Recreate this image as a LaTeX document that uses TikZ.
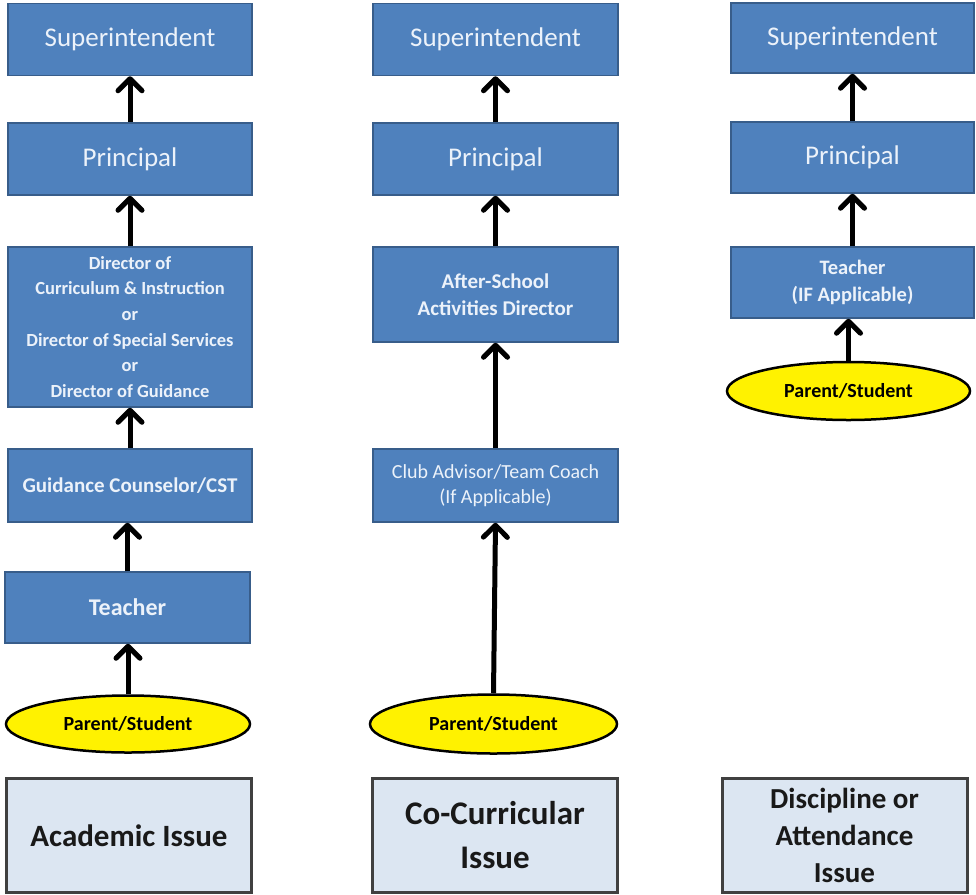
\documentclass[tikz,border=0pt]{standalone}
\usepackage{fontspec}
\setmainfont{Carlito}
\usetikzlibrary{arrows.meta,shapes.geometric}
\definecolor{boxblue}{RGB}{79,129,189}
\definecolor{boxedge}{RGB}{56,93,138}
\definecolor{boxtext}{RGB}{236,242,250}
\definecolor{issuefill}{RGB}{220,230,242}
\definecolor{issueedge}{RGB}{64,64,64}
\tikzset{
  role/.style={draw=boxedge, line width=1.5pt, fill=boxblue, text=boxtext,
    minimum width=244pt, minimum height=72pt, inner sep=0pt, align=center},
  toprole/.style={role, font=\fontsize{27}{32}\selectfont},
  parent/.style={ellipse, draw=black, line width=2.5pt, fill=yellow,
    minimum width=244pt, minimum height=57pt, inner sep=0pt,
    font=\fontsize{20}{24}\selectfont\bfseries},
  issue/.style={draw=issueedge, line width=3pt, fill=issuefill, text=black!90,
    minimum width=245pt, minimum height=114pt, inner sep=0pt, align=center},
  up/.style={-{Straight Barb[length=12pt,width=24pt,round]}, line width=5pt}
}
\begin{document}
\begin{tikzpicture}[x=1pt,y=-1pt]
\useasboundingbox (0,0) rectangle (976,894);
\node[toprole] (sup1) at (130,39.5) {Superintendent};
\node[toprole] (pri1) at (130,159) {Principal};
\node[role, minimum height=160pt, font=\fontsize{18.5}{25.7}\selectfont\bfseries] (dir1) at (130,327) {Director of\\Curriculum \& Instruction\\or\\Director of Special Services\\or\\Director of Guidance};
\node[role, minimum height=73pt, font=\fontsize{21}{25}\selectfont\bfseries] (gui1) at (130,485.5) {Guidance Counselor/CST};
\node[role, minimum width=245pt, minimum height=71pt, font=\fontsize{24}{28}\selectfont\bfseries] (tea1) at (127.5,607.5) {Teacher};
\node[parent] (par1) at (128,724) {Parent/Student};
\node[issue, font=\fontsize{31}{40}\selectfont\bfseries] (iss1) at (129,835.5) {Academic Issue};
\draw[up] (par1.north) -- (par1.north |- tea1.south);
\draw[up] (tea1.north) -- (tea1.north |- gui1.south);
\draw[up] (gui1.north) -- (gui1.north |- dir1.south);
\draw[up] (dir1.north) -- (dir1.north |- pri1.south);
\draw[up] (pri1.north) -- (pri1.north |- sup1.south);
\node[toprole, minimum width=245pt] (sup2) at (495.5,39.5) {Superintendent};
\node[toprole, minimum width=245pt] (pri2) at (495.5,159) {Principal};
\node[role, minimum width=245pt, minimum height=95pt, font=\fontsize{21}{27}\selectfont\bfseries] (aft2) at (495.5,294.5) {After-School\\Activities Director};
\node[role, minimum width=245pt, minimum height=73pt, font=\fontsize{20}{25}\selectfont] (clb2) at (495.5,485.5) {Club Advisor/Team Coach\\(If Applicable)};
\node[parent, minimum width=247pt, minimum height=59pt] (par2) at (493.5,724) {Parent/Student};
\node[issue, font=\fontsize{33}{44}\selectfont\bfseries] (iss2) at (495,835) {Co-Curricular\\Issue};
\draw[up] (par2.north) -- (clb2.south);
\draw[up] (clb2.north) -- (clb2.north |- aft2.south);
\draw[up] (aft2.north) -- (aft2.north |- pri2.south);
\draw[up] (pri2.north) -- (pri2.north |- sup2.south);
\node[toprole, minimum width=243pt, minimum height=70pt] (sup3) at (852.5,38) {Superintendent};
\node[toprole, minimum width=243pt, minimum height=71pt] (pri3) at (852.5,157.5) {Principal};
\node[role, minimum width=243pt, minimum height=71pt, font=\fontsize{20.5}{27}\selectfont\bfseries] (tea3) at (852.5,282.5) {Teacher\\(IF Applicable)};
\node[parent, minimum width=243pt, minimum height=58pt] (par3) at (848.5,391) {Parent/Student};
\node[issue, font=\fontsize{29}{37}\selectfont\bfseries] (iss3) at (844.5,835) {Discipline or\\Attendance\\Issue};
\draw[up] (par3.north) -- (par3.north |- tea3.south);
\draw[up] (tea3.north) -- (tea3.north |- pri3.south);
\draw[up] (pri3.north) -- (pri3.north |- sup3.south);
\end{tikzpicture}
\end{document}
